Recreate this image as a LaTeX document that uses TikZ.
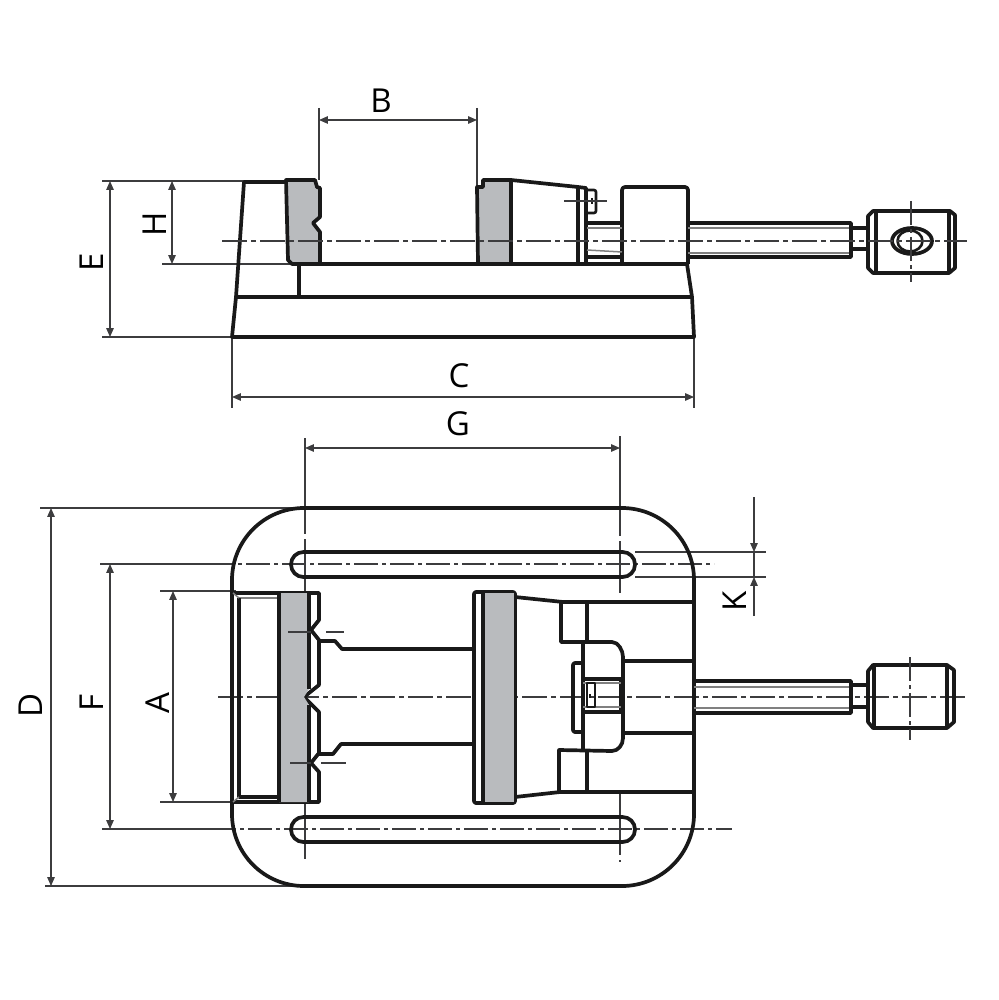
\documentclass[tikz,border=0pt]{standalone}
\usepackage{fontspec}
\setsansfont{Open Sans}
\usetikzlibrary{arrows.meta}
\definecolor{jawgray}{HTML}{B9BBBE}
\definecolor{dimgray}{HTML}{3C3C3E}
\tikzset{
  outline/.style={line width=1.85pt, line join=round, black!90},
  fineline/.style={line width=0.75pt, gray},
  jaw/.style={outline, fill=jawgray},
  extline/.style={line width=0.55pt, dimgray},
  dimline/.style={line width=0.55pt, dimgray, {Triangle[length=4.4pt,width=3.7pt]}-{Triangle[length=4.4pt,width=3.7pt]}},
  centreline/.style={line width=0.6pt, dimgray, dash pattern=on 12.5pt off 2pt on 2.5pt off 2pt},
  shortcentre/.style={centreline, dash pattern=on 12pt off 2pt on 2pt off 2pt},
  dimlabel/.style={inner sep=0pt, font=\sffamily\fontsize{16.5}{18}\selectfont},
  vertlabel/.style={dimlabel, rotate=90}
}
\begin{document}
\begin{tikzpicture}[x=0.5pt, y=-0.5pt]
    \useasboundingbox (0,0) rectangle (999,1000);

    % Define dimension ends
    \coordinate (Bl) at (319,120);   \coordinate (Br) at (477,120);
    \coordinate (Et) at (110,181);   \coordinate (Eb) at (110,337);
    \coordinate (Ht) at (172,181);   \coordinate (Hb) at (172,264);
    \coordinate (Cl) at (232,397);   \coordinate (Cr) at (694,397);
    \coordinate (Gl) at (305,448);   \coordinate (Gr) at (620,448);
    \coordinate (Dt) at (51,508);    \coordinate (Db) at (51,886);
    \coordinate (Ft) at (110,564);   \coordinate (Fb) at (110,829);
    \coordinate (At) at (173,591);   \coordinate (Ab) at (173,802);
    \coordinate (Kt) at (754,552);   \coordinate (Kb) at (754,577);
    \coordinate (Ktop) at (754,497); \coordinate (Kbot) at (754,616);

    % Side view: extension lines
    \draw[extline] (319,108) -- (319,180);
    \draw[extline] (477,108) -- (477,187);
    \draw[extline] (102,181) -- (244,181);
    \draw[extline] (102,337) -- (232,337);
    \draw[extline] (162,264) -- (290,264);
    \draw[extline] (232,337) -- (232,408);
    \draw[extline] (694,337) -- (694,408);

    % Side view: base and body
    \draw[outline] (286,182) -- (244,182) -- (236,297) -- (232,337) -- (694,337) -- (692,297) -- (687,264);
    \draw[outline] (236,297) -- (692,297);
    \draw[outline] (292,264) -- (687,264);
    \draw[outline] (299,264) -- (299,297);

    % Side view: jaws
    \draw[jaw] (286,180) -- (315,180) -- (317,187) -- (320,188) -- (320,217) -- (313,223) -- (320,232) -- (320,264)
      -- (292,264) -- (288,260) -- cycle;
    \draw[jaw] (477,187) -- (483,187) -- (483,180) -- (511,180) -- (511,264) -- (478,264) -- cycle;
    \draw[outline] (511,180) -- (578,187) -- (586,188) -- (586,264);
    \draw[outline] (578,187) -- (578,264);
    \draw[outline, line width=1.3pt, rounded corners=1pt] (588,190) -- (596,190) -- (596,213) -- (588,213);
    \draw[outline, line width=1.3pt] (592,198) -- (592,204);
    \draw[extline] (564,201) -- (607,201);

    % Side view: block and spindle
    \draw[outline, rounded corners=1.5pt] (622,264) -- (622,187) -- (688,187) -- (688,264);
    \draw[outline] (587,223) -- (622,223);
    \draw[outline] (587,257) -- (622,257);
    \draw[fineline] (587,228) -- (622,228);
    \draw[fineline] (587,250) -- (622,252);
    \draw[outline] (688,223) -- (851,223) -- (851,257) -- (688,257);
    \draw[fineline] (688,228) -- (849,228);
    \draw[fineline] (688,253) -- (849,253);
    \draw[outline] (851,228) -- (868,228);
    \draw[outline] (851,249) -- (868,249);

    % Side view: handle
    \draw[outline] (868,216) -- (873,211) -- (950,211) -- (955,215) -- (955,268) -- (949,273) -- (873,273) -- (868,268) -- cycle;
    \draw[outline] (876,211) -- (876,273);
    \draw[outline] (949,211) -- (949,273);
    \draw[outline] (912,241) ellipse [x radius=20, y radius=13];
    \draw[outline, line width=1.3pt] (910,241) ellipse [x radius=12.5, y radius=10.5];

    \draw[centreline] (222,241) -- (967,241);
    \draw[shortcentre] (911,201) -- (911,282);

    % Plan view: extension lines
    \draw[extline] (40,508) -- (305,508);
    \draw[extline] (45,886) -- (305,886);
    \draw[extline] (100,564) -- (210,564);
    \draw[extline] (102,829) -- (212,829);
    \draw[extline] (160,591) -- (236,591);
    \draw[extline] (160,802) -- (236,802);
    \draw[extline] (305,438) -- (305,534);
    \draw[extline] (305,539) -- (305,593);
    \draw[extline] (305,802) -- (305,859);
    \draw[extline] (620,436) -- (620,536);
    \draw[extline] (620,541) -- (620,593);
    \draw[extline] (620,794) -- (620,855);
    \draw[extline] (620,860) -- (620,862);
    \draw[extline, line width=0.75pt] (635,552) -- (766,552);
    \draw[extline, line width=0.75pt] (635,577) -- (766,577);
    \draw[shortcentre] (210,564) -- (714,564);
    \draw[shortcentre] (212,829) -- (732,829);

    \draw[centreline] (218,697) -- (967,697);

    % Plan view: base and slots
    \draw[outline, rounded corners=36pt] (232,508) rectangle (694,886);
    \draw[outline, rounded corners=6.2pt] (291,552) rectangle (635,577);
    \draw[outline, rounded corners=6.2pt] (291,817) rectangle (635,842);

    % Plan view: fixed jaw
    \draw[outline] (233,593) -- (279,593);
    \draw[outline] (233,802) -- (279,802);
    \draw[fineline] (239,598) -- (279,598);
    \draw[outline] (239,598) -- (239,797) -- (279,797);
    \draw[fineline] (233,593) -- (239,598);
    \draw[fineline] (233,802) -- (239,797);
    \draw[outline, fill=white] (279,593) -- (319,593) -- (319,620) -- (311,630) -- (319,640) -- (319,685) -- (304,697) -- (319,712)
      -- (319,753) -- (311,763) -- (319,772) -- (319,802) -- (279,802) -- cycle;
    \draw[jaw, draw=none] (279,593) -- (309,593) -- (309,689) -- (304,697) -- (309,705) -- (309,802) -- (279,802) -- cycle;
    \draw[outline] (279,593) -- (279,802);
    \draw[outline] (309,593) -- (309,689) (309,705) -- (309,802);
    \draw[extline] (288,632) -- (311,632);
    \draw[extline] (326,632) -- (344,632);
    \draw[extline] (290,763) -- (311,763);
    \draw[extline] (321,763) -- (346,763);

    % Plan view: slide
    \draw[outline] (319,641) -- (335,641) -- (342,649) -- (474,649);
    \draw[outline] (319,754) -- (333,754) -- (341,744) -- (474,744);

    % Plan view: moving jaw
    \draw[jaw, fill=white, rounded corners=1pt] (474,592) rectangle (515,803);
    \draw[jaw, draw=none] (483,593) rectangle (514,802);
    \draw[outline] (483,592) -- (483,803);
    \draw[outline] (515,597) -- (563,602) -- (693,602);
    \draw[outline] (515,797) -- (560,792) -- (693,792);

    % Plan view: carriage
    \draw[outline] (561,602) -- (561,642) -- (612,642) .. controls (618,642) and (623,650) .. (623,657) -- (623,738)
      .. controls (623,745) and (618,751) .. (612,751) -- (559,750) -- (559,791);
    \draw[outline] (583,642) -- (583,750);
    \draw[outline] (587,602) -- (587,642);
    \draw[outline] (587,750) -- (587,791);
    \draw[outline] (623,661) -- (693,661);
    \draw[outline] (623,733) -- (693,733);
    \draw[outline] (583,679) -- (623,679);
    \draw[outline] (583,712) -- (623,712);
    \draw[outline] (621,679) -- (621,712);
    \draw[fineline] (583,683) -- (621,683);
    \draw[fineline] (583,707) -- (621,707);
    \draw[outline, line width=1.3pt] (587,683) rectangle (595,707);
    \draw[outline, line width=1.3pt] (590,694) -- (590,698);
    \draw[outline, rounded corners=1pt] (582,663) -- (573,663) -- (573,732) -- (582,732);

    % Plan view: spindle and handle
    \draw[outline] (694,681) -- (851,681) -- (851,713) -- (694,713);
    \draw[fineline] (694,687) -- (849,687);
    \draw[fineline] (694,708) -- (849,708);
    \draw[outline] (851,685) -- (868,685);
    \draw[outline] (851,707) -- (868,707);
    \draw[outline] (868,671) -- (873,665) -- (947,665) -- (954,670) -- (954,722) -- (947,728) -- (873,728) -- (868,722) -- cycle;
    \draw[outline] (874,665) -- (874,728);
    \draw[outline] (947,665) -- (947,728);
    \draw[shortcentre] (910,657) -- (910,740);

    % Dimension lines
    \draw[dimline] (Bl) -- (Br);
    \draw[dimline] (Et) -- (Eb);
    \draw[dimline] (Ht) -- (Hb);
    \draw[dimline] (Cl) -- (Cr);
    \draw[dimline] (Gl) -- (Gr);
    \draw[dimline] (Dt) -- (Db);
    \draw[dimline] (Ft) -- (Fb);
    \draw[dimline] (At) -- (Ab);
    \draw[extline, -{Triangle[length=4.4pt,width=3.7pt]}] (Ktop) -- (Kt);
    \draw[extline] (Kt) -- (Kb);
    \draw[extline, -{Triangle[length=4.4pt,width=3.7pt]}] (Kbot) -- (Kb);

    % Dimension labels
    \node[dimlabel]  (labB) at (381,101) {B};
    \node[vertlabel] (labE) at (92,262)  {E};
    \node[vertlabel] (labH) at (155,224) {H};
    \node[dimlabel]  (labC) at (459,376) {C};
    \node[dimlabel]  (labG) at (458,424) {G};
    \node[vertlabel] (labD) at (31,705)  {D};
    \node[vertlabel] (labF) at (92,703)  {F};
    \node[vertlabel] (labA) at (158,703) {A};
    \node[vertlabel] (labK) at (735,601) {K};

\end{tikzpicture}
\end{document}
